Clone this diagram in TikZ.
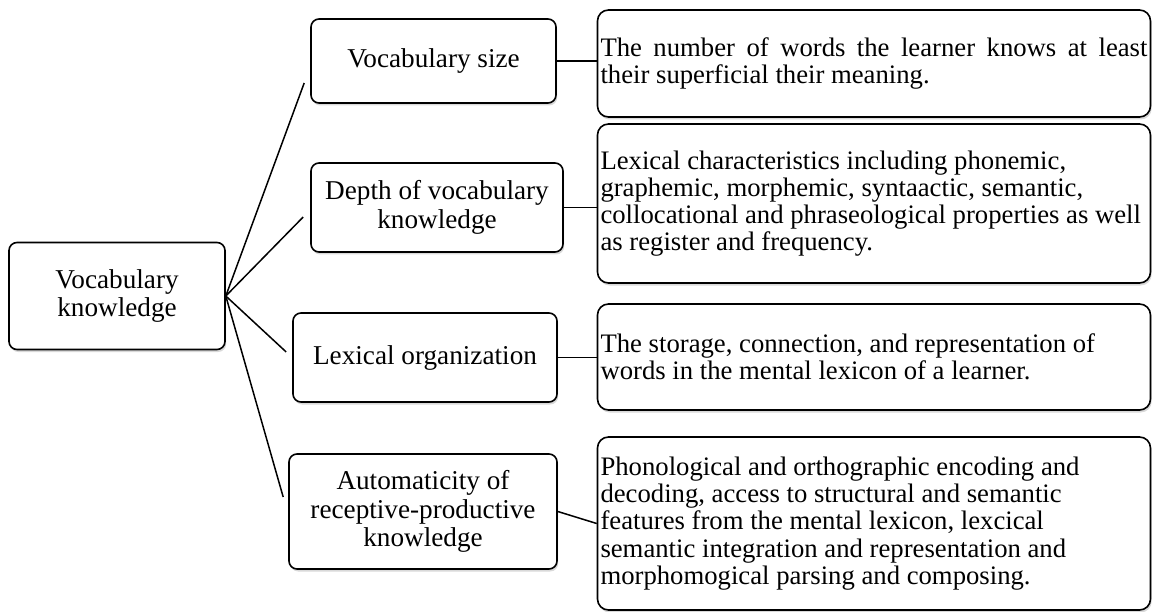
\documentclass[tikz,border=0pt]{standalone}
\usepackage{fontspec}
\setmainfont{Liberation Serif}
\usetikzlibrary{shadows}

\begin{document}
\begin{tikzpicture}[x=1pt,y=-1pt,
    box/.style={draw, line width=1.6pt, rounded corners=8pt, fill=white, align=center, inner sep=0pt,
      font=\fontsize{27.2}{28.5}\selectfont, execute at begin node={\spaceskip=0pt\xspaceskip=0pt},
      drop shadow={shadow xshift=1.2pt, shadow yshift=-2.5pt, opacity=0.3}},
    txtbox/.style={box, rounded corners=11pt, minimum width=553pt, text width=547pt, align=left,
      font=\fontsize{26.7}{27.2}\selectfont},
    link/.style={line width=1.5pt}]
    \useasboundingbox (0,0) rectangle (1153,612); % size of the figure
    \node[box, minimum width=216pt, minimum height=107pt] (root) at (117,296) {Vocabulary\\knowledge}; % main concept
    % the four components
    \node[box, minimum width=245pt, minimum height=84pt] (vsize) at (433.5,61) {Vocabulary size};
    \node[box, minimum width=252pt, minimum height=89pt] (depth) at (437,207.5) {Depth of vocabulary\\knowledge};
    \node[box, minimum width=264pt, minimum height=89pt] (lexorg) at (425,357.5) {Lexical organization};
    \node[box, minimum width=268pt, minimum height=115pt] (autom) at (423,511.5) {Automaticity of\\receptive-productive\\knowledge};
    % what each component means
    \node[txtbox, minimum height=107pt] (sizetxt) at (874,63.5) {\makebox[547pt][s]{The number of words the learner knows at least}\\their superficial their meaning.};
    \node[txtbox, minimum height=159pt] (depthtxt) at (874,203.5) {Lexical characteristics including phonemic,\\graphemic, morphemic, syntaactic, semantic,\\collocational and phraseological properties as well\\as register and frequency.};
    \node[txtbox, minimum height=106pt] (orgtxt) at (874,357) {The storage, connection, and representation of\\words in the mental lexicon of a learner.};
    \node[txtbox, minimum height=173pt] (autotxt) at (874,523.5) {Phonological and orthographic encoding and\\decoding, access to structural and semantic\\features from the mental lexicon, lexcical\\semantic integration and representation and\\morphomogical parsing and composing.};
    % line ends just short of the component boxes
    \coordinate (vsize-in) at ([shift={(-6,22)}]vsize.west);
    \coordinate (depth-in) at ([shift={(-7,9.5)}]depth.west);
    \coordinate (lexorg-in) at ([shift={(-6,-5.5)}]lexorg.west);
    \coordinate (autom-in) at ([shift={(-5,-14.5)}]autom.west);
    \draw[link] (root.east) -- (vsize-in); % root to components
    \draw[link] (root.east) -- (depth-in);
    \draw[link] (root.east) -- (lexorg-in);
    \draw[link] (root.east) -- (autom-in);
    \draw[link] (vsize.east) -- (vsize.east -| sizetxt.west); % components to their meaning
    \draw[link] (depth.east) -- (depth.east -| depthtxt.west);
    \draw[link] (lexorg.east) -- (lexorg.east -| orgtxt.west);
    \draw[link] (autom.east) -- (autotxt.west);
\end{tikzpicture}
\end{document}
